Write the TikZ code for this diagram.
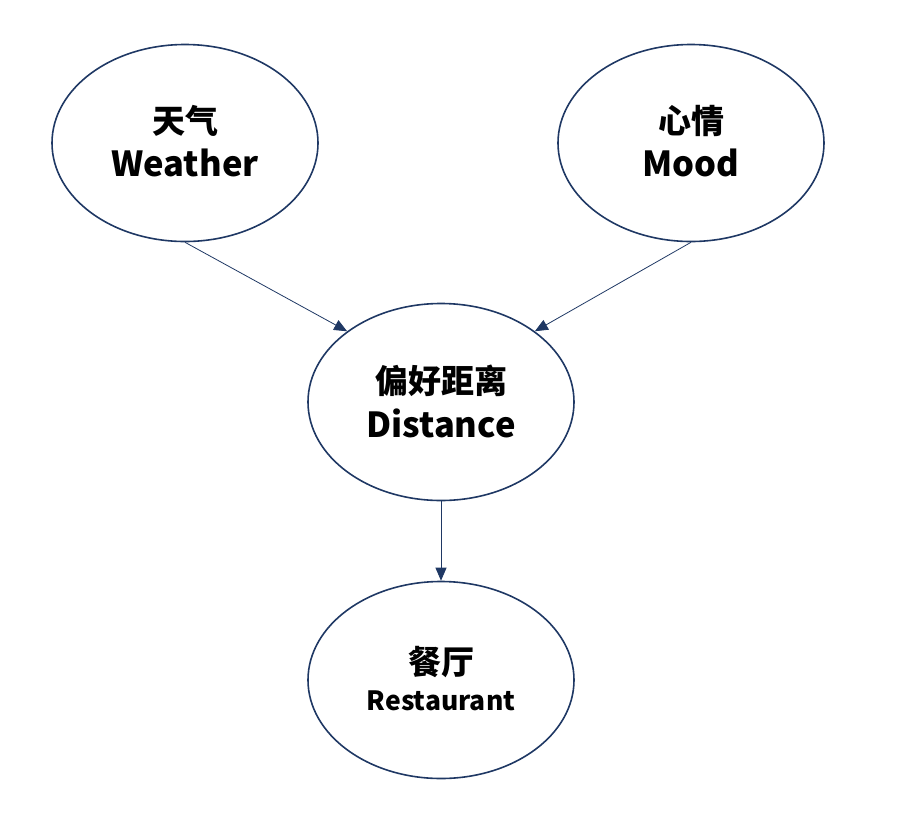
\documentclass[tikz,border=0pt]{standalone}
\usepackage{fontspec}
\setmainfont{Noto Sans CJK SC}
\usetikzlibrary{arrows.meta,shapes.geometric}
\definecolor{navy}{HTML}{1F3864}
\begin{document}
\begin{tikzpicture}[x=1pt,y=-1pt,
  ell/.style={ellipse,draw=navy,line width=1.6pt,minimum width=266pt,minimum height=197pt,inner sep=0pt},
  cjk/.style={font=\fontsize{33}{33}\selectfont\bfseries},
  lat/.style={font=\fontsize{34.5}{34.5}\selectfont\bfseries},
  lats/.style={font=\fontsize{26.5}{26.5}\selectfont\bfseries},
  conn/.style={draw=navy,line width=0.8pt,-{Triangle[length=13pt,width=11pt]}}]
\useasboundingbox (0,0) rectangle (903,815);
\node[ell] (w) at (185,143) {};
\node[ell] (m) at (691,143) {};
\node[ell] (d) at (441,402) {};
\node[ell] (r) at (441,680) {};
\node[cjk] (wc) at (185,121) {天气};
\node[lat] (wl) at (185,163) {Weather};
\node[cjk] (mc) at (691,121) {心情};
\node[lat] (ml) at (691,163) {Mood};
\node[cjk] (dc) at (441,381) {偏好距离};
\node[lat] (dl) at (441,423) {Distance};
\node[cjk] (rc) at (441,662) {餐厅};
\node[lats] (rl) at (441,701) {Restaurant};
\draw[conn] (w.south) -- (d.143);
\draw[conn] (m.south) -- (d.37);
\draw[conn] (d.south) -- (r.north);
\end{tikzpicture}
\end{document}
